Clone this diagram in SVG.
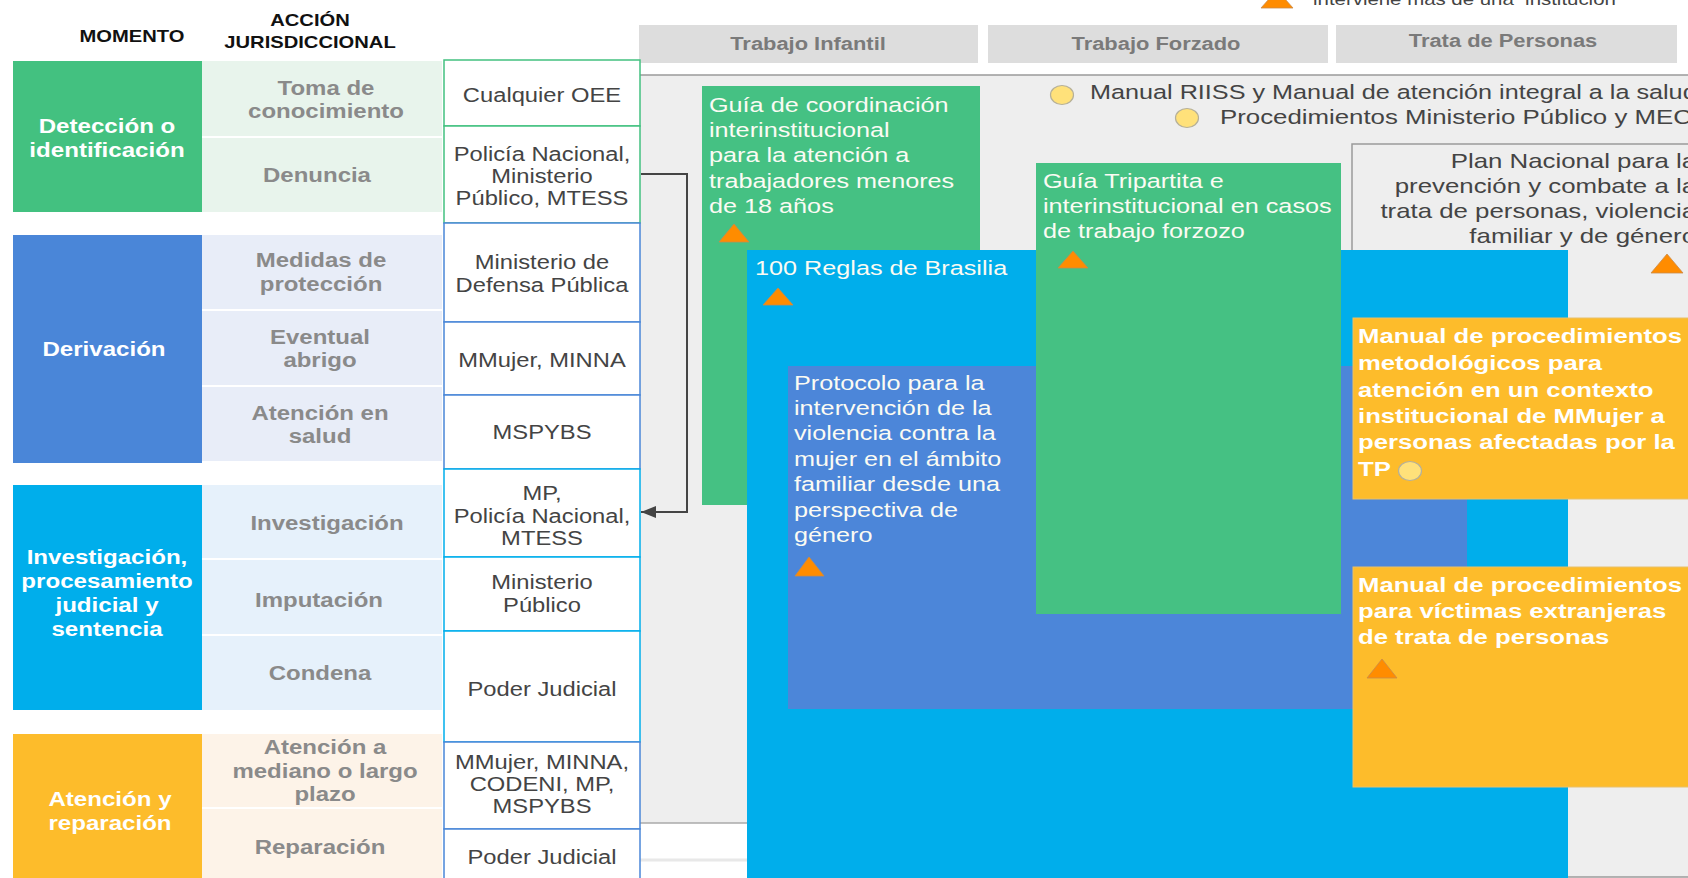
<svg xmlns="http://www.w3.org/2000/svg" width="1688" height="878" viewBox="0 0 1688 878">
<defs>
<style>
text{font-family:"Liberation Sans",Arial,sans-serif}
.hdr{font-weight:bold;font-size:16.4px;fill:#111;text-anchor:middle}
.lab{font-weight:bold;font-size:19.5px;fill:#8a8a8a;text-anchor:middle}
.mom{font-weight:bold;font-size:19.6px;fill:#fff;text-anchor:middle}
.box{font-size:19.3px;fill:#444;text-anchor:middle}
.tab{font-weight:bold;font-size:17.8px;fill:#7a7a7a;text-anchor:middle}
.node{font-size:20.5px;fill:#fbfbf3}
.nodeb{font-weight:bold;font-size:20.9px;fill:#fff}
.leg{font-size:21px;fill:#444}
.plan{font-size:21px;fill:#444;text-anchor:end}
.tri{fill:#ff8c00;stroke:#c98a4a;stroke-width:0.8}
.dot{fill:#ffe17a;stroke:#b5b09a;stroke-width:1.2}
.wbox{fill:#fff;stroke-width:1.5}
.conn{fill:none;stroke:#444;stroke-width:2}
</style>
<marker id="arr" markerUnits="userSpaceOnUse" markerWidth="15" markerHeight="12" refX="15" refY="6" orient="auto">
<path d="M0,0 L15,6 L0,12 z" fill="#444"/>
</marker>
</defs>
<rect width="1688" height="878" fill="#fff"/>

<!-- grey background area -->
<g id="background">
<rect x="640" y="75" width="1048" height="748" fill="#eeeeee"/>
<line x1="640" y1="75" x2="1688" y2="75" stroke="#9a9a9a" stroke-width="1.5"/>
<line x1="640" y1="823" x2="1688" y2="823" stroke="#aaaaaa" stroke-width="1.5"/>
<line x1="640" y1="860" x2="1688" y2="860" stroke="#e8e8e8" stroke-width="3"/>
</g>

<!-- headers -->
<g id="headers">
<text class="hdr" transform="matrix(1.23 0 0 1 132 0)"><tspan x="0" y="42">MOMENTO</tspan></text>
<text class="hdr" transform="matrix(1.23 0 0 1 310 0)"><tspan x="0" y="26">ACCIÓN</tspan><tspan x="0" y="48">JURISDICCIONAL</tspan></text>
</g>

<g id="tabs">
<g id="tab-infantil"><rect x="639" y="25" width="339" height="38" fill="#dddddd"/>
<text class="tab" transform="matrix(1.23 0 0 1 808 0)"><tspan x="0" y="50">Trabajo Infantil</tspan></text></g>
<g id="tab-forzado"><rect x="988" y="25" width="340" height="38" fill="#dddddd"/>
<text class="tab" transform="matrix(1.23 0 0 1 1156 0)"><tspan x="0" y="50">Trabajo Forzado</tspan></text></g>
<g id="tab-trata"><rect x="1336" y="25" width="341" height="38" fill="#dddddd"/>
<text class="tab" transform="matrix(1.23 0 0 1 1503 0)"><tspan x="0" y="47">Trata de Personas</tspan></text></g>
</g>

<!-- momento column -->
<g id="momento">
<g id="m-deteccion"><rect x="13" y="61" width="189" height="151" fill="#43c180"/>
<text class="mom" transform="matrix(1.23 0 0 1 107 0)"><tspan x="0" y="133">Detección o</tspan><tspan x="0" y="157">identificación</tspan></text></g>
<g id="m-derivacion"><rect x="13" y="235" width="189" height="228" fill="#4a86d8"/>
<text class="mom" transform="matrix(1.23 0 0 1 104 0)"><tspan x="0" y="356">Derivación</tspan></text></g>
<g id="m-investigacion"><rect x="13" y="485" width="189" height="225" fill="#00aeeb"/>
<text class="mom" transform="matrix(1.23 0 0 1 107 0)"><tspan x="0" y="564">Investigación,</tspan><tspan x="0" y="588">procesamiento</tspan><tspan x="0" y="612">judicial y</tspan><tspan x="0" y="636">sentencia</tspan></text></g>
<g id="m-atencion"><rect x="13" y="734" width="189" height="150" fill="#fdbc2b"/>
<text class="mom" transform="matrix(1.23 0 0 1 110 0)"><tspan x="0" y="806">Atención y</tspan><tspan x="0" y="830">reparación</tspan></text></g>
</g>

<!-- accion jurisdiccional column -->
<g id="accion">
<g id="a-toma"><rect x="202" y="61" width="240" height="75" fill="#e8f4ec"/>
<text class="lab" transform="matrix(1.23 0 0 1 326 0)"><tspan x="0" y="95">Toma de</tspan><tspan x="0" y="118">conocimiento</tspan></text></g>
<g id="a-denuncia"><rect x="202" y="138" width="240" height="74" fill="#e8f4ec"/>
<text class="lab" transform="matrix(1.23 0 0 1 317 0)"><tspan x="0" y="182">Denuncia</tspan></text></g>
<g id="a-medidas"><rect x="202" y="235" width="240" height="74" fill="#e8edf8"/>
<text class="lab" transform="matrix(1.23 0 0 1 321 0)"><tspan x="0" y="267">Medidas de</tspan><tspan x="0" y="291">protección</tspan></text></g>
<g id="a-abrigo"><rect x="202" y="311" width="240" height="74" fill="#e8edf8"/>
<text class="lab" transform="matrix(1.23 0 0 1 320 0)"><tspan x="0" y="344">Eventual</tspan><tspan x="0" y="367">abrigo</tspan></text></g>
<g id="a-salud"><rect x="202" y="387" width="240" height="74" fill="#e8edf8"/>
<text class="lab" transform="matrix(1.23 0 0 1 320 0)"><tspan x="0" y="420">Atención en</tspan><tspan x="0" y="443">salud</tspan></text></g>
<g id="a-investigacion"><rect x="202" y="485" width="240" height="73" fill="#e6f1fb"/>
<text class="lab" transform="matrix(1.23 0 0 1 327 0)"><tspan x="0" y="530">Investigación</tspan></text></g>
<g id="a-imputacion"><rect x="202" y="560" width="240" height="74" fill="#e6f1fb"/>
<text class="lab" transform="matrix(1.23 0 0 1 319 0)"><tspan x="0" y="607">Imputación</tspan></text></g>
<g id="a-condena"><rect x="202" y="636" width="240" height="74" fill="#e6f1fb"/>
<text class="lab" transform="matrix(1.23 0 0 1 320 0)"><tspan x="0" y="680">Condena</tspan></text></g>
<g id="a-mediano"><rect x="202" y="734" width="240" height="73" fill="#fdf3e8"/>
<text class="lab" transform="matrix(1.23 0 0 1 325 0)"><tspan x="0" y="754">Atención a</tspan><tspan x="0" y="778">mediano o largo</tspan><tspan x="0" y="801">plazo</tspan></text></g>
<g id="a-reparacion"><rect x="202" y="809" width="240" height="75" fill="#fdf3e8"/>
<text class="lab" transform="matrix(1.23 0 0 1 320 0)"><tspan x="0" y="854">Reparación</tspan></text></g>
</g>

<!-- institutions column -->
<g id="instituciones">
<g id="i-oee"><rect class="wbox" x="444" y="60" width="196" height="66" stroke="#43c180"/>
<text class="box" transform="matrix(1.23 0 0 1 542 0)"><tspan x="0" y="102">Cualquier OEE</tspan></text></g>
<g id="i-policia"><rect class="wbox" x="444" y="126" width="196" height="97" stroke="#43c180"/>
<text class="box" transform="matrix(1.23 0 0 1 542 0)"><tspan x="0" y="161">Policía Nacional,</tspan><tspan x="0" y="183">Ministerio</tspan><tspan x="0" y="205">Público, MTESS</tspan></text></g>
<g id="i-defensa"><rect class="wbox" x="444" y="223" width="196" height="99" stroke="#4a86d8"/>
<text class="box" transform="matrix(1.23 0 0 1 542 0)"><tspan x="0" y="269">Ministerio de</tspan><tspan x="0" y="292">Defensa Pública</tspan></text></g>
<g id="i-mmujer"><rect class="wbox" x="444" y="322" width="196" height="73" stroke="#4a86d8"/>
<text class="box" transform="matrix(1.23 0 0 1 542 0)"><tspan x="0" y="367">MMujer, MINNA</tspan></text></g>
<g id="i-mspybs"><rect class="wbox" x="444" y="395" width="196" height="74" stroke="#4a86d8"/>
<text class="box" transform="matrix(1.23 0 0 1 542 0)"><tspan x="0" y="439">MSPYBS</tspan></text></g>
<g id="i-mp"><rect class="wbox" x="444" y="469" width="196" height="88" stroke="#00aeeb"/>
<text class="box" transform="matrix(1.23 0 0 1 542 0)"><tspan x="0" y="500">MP,</tspan><tspan x="0" y="523">Policía Nacional,</tspan><tspan x="0" y="545">MTESS</tspan></text></g>
<g id="i-ministerio"><rect class="wbox" x="444" y="557" width="196" height="74" stroke="#00aeeb"/>
<text class="box" transform="matrix(1.23 0 0 1 542 0)"><tspan x="0" y="589">Ministerio</tspan><tspan x="0" y="612">Público</tspan></text></g>
<g id="i-poder1"><rect class="wbox" x="444" y="631" width="196" height="111" stroke="#00aeeb"/>
<text class="box" transform="matrix(1.23 0 0 1 542 0)"><tspan x="0" y="696">Poder Judicial</tspan></text></g>
<g id="i-codeni"><rect class="wbox" x="444" y="742" width="196" height="87" stroke="#4a86d8"/>
<text class="box" transform="matrix(1.23 0 0 1 542 0)"><tspan x="0" y="769">MMujer, MINNA,</tspan><tspan x="0" y="791">CODENI, MP,</tspan><tspan x="0" y="813">MSPYBS</tspan></text></g>
<g id="i-poder2"><rect class="wbox" x="444" y="829" width="196" height="60" stroke="#4a86d8"/>
<text class="box" transform="matrix(1.23 0 0 1 542 0)"><tspan x="0" y="864">Poder Judicial</tspan></text></g>
</g>

<!-- legend -->
<g id="legend">
<polygon class="tri" points="1277,-10 1261,8 1293,8"/>
<text class="leg" style="font-size:16.6px;white-space:pre" transform="matrix(1.23 0 0 1 1313 0)"><tspan x="0" y="5">interviene más de una  institución</tspan></text>
<ellipse class="dot" cx="1062" cy="95" rx="11.5" ry="9.5"/>
<text class="leg" style="font-size:20.5px" transform="matrix(1.23 0 0 1 1090 0)"><tspan x="0" y="99">Manual RIISS y Manual de atención integral a la salud</tspan></text>
<ellipse class="dot" cx="1187" cy="118" rx="11.5" ry="9.5"/>
<text class="leg" transform="matrix(1.23 0 0 1 1220 0)"><tspan x="0" y="124">Procedimientos Ministerio Público y MEC</tspan></text>
</g>

<!-- documents -->
<g id="documentos">
<g id="d-plan"><rect x="1352" y="144" width="360" height="733" fill="#eeeeee" stroke="#9a9a9a" stroke-width="1.5"/>
<text class="plan" transform="matrix(1.23 0 0 1 1696 0)"><tspan x="0" y="168">Plan Nacional para la</tspan><tspan x="0" y="193">prevención y combate a la</tspan><tspan x="0" y="218">trata de personas, violencia</tspan><tspan x="0" y="243">familiar y de género</tspan></text>
<polygon class="tri" points="1667,254 1651,273 1683,273"/></g>
<g id="d-guia-ti"><rect x="702" y="86" width="278" height="419" fill="#45c183"/>
<text class="node" transform="matrix(1.23 0 0 1 709 0)"><tspan x="0" y="112">Guía de coordinación</tspan><tspan x="0" y="137">interinstitucional</tspan><tspan x="0" y="162">para la atención a</tspan><tspan x="0" y="188">trabajadores menores</tspan><tspan x="0" y="213">de 18 años</tspan></text>
<polygon class="tri" points="734,224 719,242 749,242"/></g>
<g id="d-brasilia"><rect x="747" y="250" width="821" height="640" fill="#00aeeb"/>
<text class="node" transform="matrix(1.23 0 0 1 755 0)"><tspan x="0" y="275">100 Reglas de Brasilia</tspan></text>
<polygon class="tri" points="778,288 763,305 793,305"/></g>
<g id="d-protocolo"><rect x="788" y="366" width="679" height="343" fill="#4c86d9"/>
<text class="node" transform="matrix(1.23 0 0 1 794 0)"><tspan x="0" y="390">Protocolo para la</tspan><tspan x="0" y="415">intervención de la</tspan><tspan x="0" y="440">violencia contra la</tspan><tspan x="0" y="466">mujer en el ámbito</tspan><tspan x="0" y="491">familiar desde una</tspan><tspan x="0" y="517">perspectiva de</tspan><tspan x="0" y="542">género</tspan></text>
<polygon class="tri" points="809,557 795,576 824,576"/></g>
<g id="d-tripartita"><rect x="1036" y="163" width="305" height="451" fill="#45c183"/>
<text class="node" transform="matrix(1.23 0 0 1 1043 0)"><tspan x="0" y="188">Guía Tripartita e</tspan><tspan x="0" y="213">interinstitucional en casos</tspan><tspan x="0" y="238">de trabajo forzozo</tspan></text>
<polygon class="tri" points="1073,251 1058,268 1088,268"/></g>
<g id="d-manual-mmujer"><rect x="1353" y="318" width="345" height="181" fill="#fdbc2b" stroke="#e8c06a" stroke-width="1"/>
<text class="nodeb" transform="matrix(1.23 0 0 1 1358 0)"><tspan x="0" y="343">Manual de procedimientos</tspan><tspan x="0" y="370">metodológicos para</tspan><tspan x="0" y="397">atención en un contexto</tspan><tspan x="0" y="423">institucional de MMujer a</tspan><tspan x="0" y="449">personas afectadas por la</tspan><tspan x="0" y="476">TP</tspan></text>
<ellipse class="dot" cx="1410" cy="471" rx="11.5" ry="9.5"/></g>
<g id="d-manual-extranjeras"><rect x="1353" y="567" width="345" height="220" fill="#fdbc2b" stroke="#e8c06a" stroke-width="1"/>
<text class="nodeb" transform="matrix(1.23 0 0 1 1358 0)"><tspan x="0" y="592">Manual de procedimientos</tspan><tspan x="0" y="618">para víctimas extranjeras</tspan><tspan x="0" y="644">de trata de personas</tspan></text>
<polygon class="tri" points="1382,659 1367,678 1397,678"/></g>
</g>

<!-- connectors -->
<g id="connectors">
<path class="conn" d="M641,174 H687 V512 H641" marker-end="url(#arr)"/>
</g>
</svg>
